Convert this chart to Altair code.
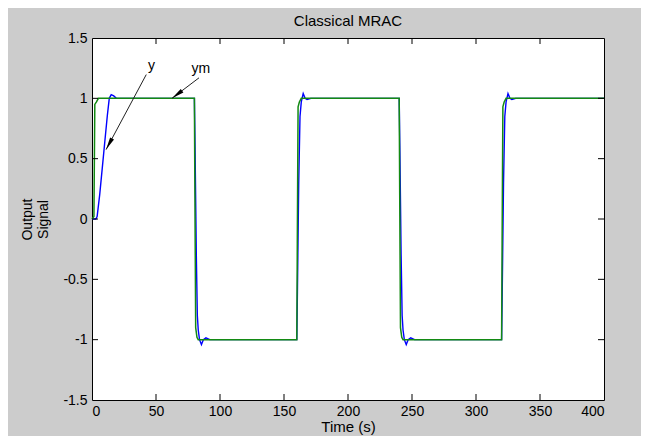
import math
import altair as alt
import pandas as pd

# ---- data ----
ym_t = [0, 1.5, 2.2, 3.5, 5, 80, 80.4, 81, 82, 83, 160, 160.4, 161, 162, 163.5,
        240, 240.4, 241, 242, 243, 320, 320.4, 321, 322, 323.5, 400]
ym_v = [0, 0.02, 0.95, 0.97, 1.0, 1.0, 0.2, -0.9, -0.98, -1.0, -1.0, -0.2, 0.93, 0.97, 1.0,
        1.0, 0.2, -0.9, -0.98, -1.0, -1.0, -0.2, 0.93, 0.97, 1.0, 1.0]

y_t = [0, 3, 4, 6, 8, 10, 12, 13.5, 15, 17, 19,
       80, 80.5, 81.5, 82.3, 83, 84, 85.5, 87, 89, 92,
       160, 160.5, 161.5, 162.5, 163.5, 165, 166.5, 168, 171,
       240, 240.5, 241.5, 242.3, 243, 244, 245.5, 247, 249, 252,
       320, 320.5, 321.5, 322.5, 323.5, 325, 326.5, 328, 331, 400]
y_v = [0, 0, 0.02, 0.2, 0.42, 0.64, 0.86, 1.0, 1.03, 1.02, 1.0,
       1.0, 0.6, -0.3, -0.8, -0.92, -1.0, -1.04, -1.0, -0.985, -1.0,
       -1.0, -0.6, 0.3, 0.85, 0.97, 1.04, 1.0, 0.99, 1.0,
       1.0, 0.6, -0.3, -0.8, -0.92, -1.0, -1.04, -1.0, -0.985, -1.0,
       -1.0, -0.6, 0.3, 0.85, 0.97, 1.04, 1.0, 0.99, 1.0, 1.0]

x_ticks = [0, 50, 100, 150, 200, 250, 300, 350, 400]
y_ticks = [-1.5, -1, -0.5, 0, 0.5, 1, 1.5]

ann_text = ["y", "ym"]
ann_tx = [46.5, 85]
ann_ty = [1.27, 1.245]
arrow_x1 = [42.4, 83.6]   # tail
arrow_y1 = [1.197, 1.17]
arrow_x2 = [11.0, 62.5]   # tip
arrow_y2 = [0.575, 1.0]

TITLE = "Classical MRAC"
X_TITLE = "Time (s)"
Y_TITLE = ["Output", "Signal"]

# ---- layout ----
W, H = 512, 362
XD, YD = [0, 400], [-1.5, 1.5]
FONT = "Liberation Sans"
FS = 14
TFS = 15

xs = alt.Scale(domain=XD, nice=False, zero=False)
ys = alt.Scale(domain=YD, nice=False, zero=False)

ym_df = pd.DataFrame({"t": ym_t, "v": ym_v})
y_df = pd.DataFrame({"t": y_t, "v": y_v})

# arrow head angle from pixel geometry
def px(x):
    return (x - XD[0]) / (XD[1] - XD[0]) * W

def py(y):
    return H - (y - YD[0]) / (YD[1] - YD[0]) * H

angles = []
for a, b, c, d in zip(arrow_x1, arrow_y1, arrow_x2, arrow_y2):
    dx = px(c) - px(a)
    dy = py(d) - py(b)
    angles.append((math.degrees(math.atan2(dx, -dy)) + 360) % 360)

ann_df = pd.DataFrame({"text": ann_text, "tx": ann_tx, "ty": ann_ty,
                       "x1": arrow_x1, "y1": arrow_y1, "x2": arrow_x2, "y2": arrow_y2,
                       "ang": angles})

blue = alt.Chart(y_df).mark_line(color="#0000ff", strokeWidth=1.4).encode(
    x=alt.X("t:Q", scale=xs, title=X_TITLE,
            axis=alt.Axis(values=x_ticks, labelExpr="datum.value + ''", ticks=False,
                          domain=False, grid=False, labelPadding=4, titlePadding=1,
                          titleFontSize=TFS)),
    y=alt.Y("v:Q", scale=ys, title=Y_TITLE,
            axis=alt.Axis(values=y_ticks, labelExpr="datum.value + ''", ticks=False,
                          domain=False, grid=False, labelPadding=5, titlePadding=12)),
    order="t:Q",
)
green = alt.Chart(ym_df).mark_line(color="#138a13", strokeWidth=1.5).encode(
    x=alt.X("t:Q", scale=xs), y=alt.Y("v:Q", scale=ys), order="t:Q")

xt_df = pd.DataFrame({"v": x_ticks[1:-1]})
yt_df = pd.DataFrame({"v": y_ticks[1:-1]})
TL = 6
tick_top = alt.Chart(xt_df).mark_rule(color="black").encode(
    x=alt.X("v:Q", scale=xs), y=alt.value(0), y2=alt.value(TL))
tick_bot = alt.Chart(xt_df).mark_rule(color="black").encode(
    x=alt.X("v:Q", scale=xs), y=alt.value(H), y2=alt.value(H - TL))
tick_left = alt.Chart(yt_df).mark_rule(color="black").encode(
    y=alt.Y("v:Q", scale=ys), x=alt.value(0), x2=alt.value(TL))
tick_right = alt.Chart(yt_df).mark_rule(color="black").encode(
    y=alt.Y("v:Q", scale=ys), x=alt.value(W), x2=alt.value(W - TL))

arrow_line = alt.Chart(ann_df).mark_rule(color="#222222", strokeWidth=1).encode(
    x=alt.X("x1:Q", scale=xs), y=alt.Y("y1:Q", scale=ys),
    x2="x2:Q", y2="y2:Q")
arrow_head = alt.Chart(ann_df).mark_point(
    shape="M0,0 L-0.35,2 L0.35,2 Z", filled=True, color="black", opacity=1, size=160
).encode(x=alt.X("x2:Q", scale=xs), y=alt.Y("y2:Q", scale=ys), angle=alt.Angle("ang:Q", scale=None))
ann_txt = alt.Chart(ann_df).mark_text(font=FONT, fontSize=FS, color="black").encode(
    x=alt.X("tx:Q", scale=xs), y=alt.Y("ty:Q", scale=ys), text="text:N")

chart = alt.layer(
    blue, green, tick_top, tick_bot, tick_left, tick_right, arrow_line, arrow_head, ann_txt
).properties(
    width=W, height=H,
    title=alt.TitleParams(TITLE, font=FONT, fontSize=TFS, fontWeight="normal", color="black",
                          offset=2),
    autosize=alt.AutoSizeParams(type="none"),
    padding={"left": 84, "top": 30, "right": 37, "bottom": 36},
    background="#cccccc",
).configure_view(
    fill="white", stroke="black", strokeWidth=1,
).configure_axis(
    labelFont=FONT, labelFontSize=FS, labelColor="black",
    titleFont=FONT, titleFontSize=FS, titleColor="black", titleFontWeight="normal",
)

chart.save("out.html", embed_options={"renderer": "svg", "actions": False})
